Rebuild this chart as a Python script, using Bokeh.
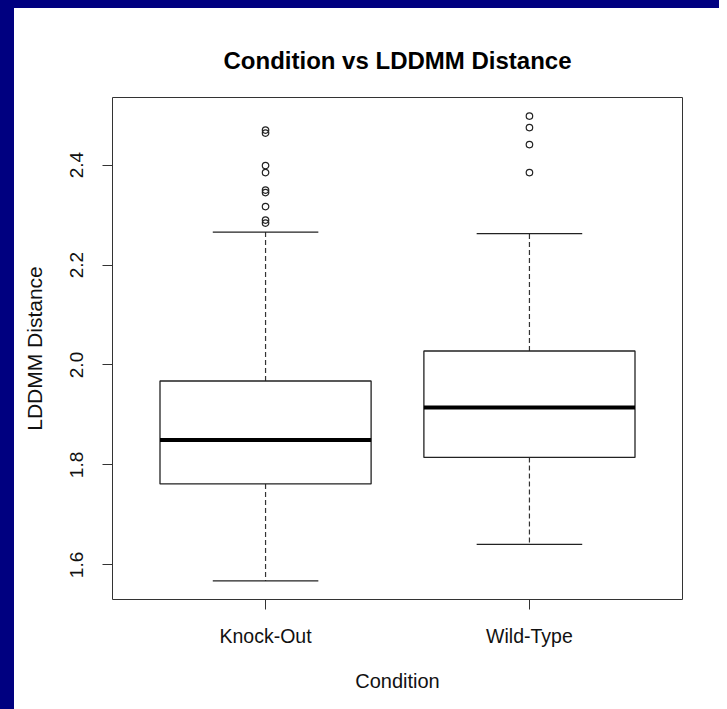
import math
from bokeh.plotting import figure
from bokeh.models import Range1d, FixedTicker, InlineStyleSheet
from bokeh.embed import file_html
from bokeh.resources import INLINE

# ---- data ----
categories = ["Knock-Out", "Wild-Type"]
positions = [1, 2]
lower_whisker = [1.568, 1.641]
q1 = [1.762, 1.815]
median = [1.850, 1.915]
q3 = [1.968, 2.028]
upper_whisker = [2.266, 2.263]
outliers_ko = [2.470, 2.464, 2.399, 2.385, 2.350, 2.345, 2.317, 2.290, 2.284]
outliers_wt = [2.498, 2.475, 2.441, 2.385]
y_ticks = [1.6, 1.8, 2.0, 2.2, 2.4]
y_tick_labels = ["1.6", "1.8", "2.0", "2.2", "2.4"]

FONT = "Liberation Sans"
BOX_HALF = 0.4
STAPLE_HALF = 0.2

p = figure(width=719, height=709, output_backend="svg", toolbar_location=None,
           x_range=Range1d(0.42, 2.58), y_range=Range1d(1.5308, 2.5352),
           min_border_left=112, min_border_right=37,
           min_border_top=97, min_border_bottom=110,
           title="Condition vs LDDMM Distance")
p.border_fill_color = None
p.background_fill_color = "white"
p.outline_line_color = "#333333"
p.outline_line_width = 1
p.grid.visible = False

p.title.align = "center"
p.title.text_font = FONT
p.title.text_font_size = "24px"
p.title.text_font_style = "bold"
p.title.text_color = "black"
p.title.standoff = 47

for ax in (p.xaxis[0], p.yaxis[0]):
    ax.axis_line_color = None
    ax.major_tick_line_color = "#333333"
    ax.major_tick_out = 10
    ax.major_tick_in = 0
    ax.minor_tick_line_color = None
    ax.major_label_text_font = FONT
    ax.major_label_text_color = "#111111"
    ax.axis_label_text_font = FONT
    ax.axis_label_text_font_style = "normal"
    ax.axis_label_text_color = "#111111"

p.xaxis.major_label_text_font_size = "19.5px"
p.xaxis.axis_label_text_font_size = "20px"
p.yaxis.major_label_text_font_size = "19px"
p.yaxis.axis_label_text_font_size = "21px"

p.xaxis.ticker = FixedTicker(ticks=positions)
p.xaxis.major_label_overrides = {pos: lab for pos, lab in zip(positions, categories)}
p.xaxis.axis_label = "Condition"
p.xaxis.major_label_standoff = 15
p.xaxis.axis_label_standoff = 20

p.yaxis.ticker = FixedTicker(ticks=y_ticks)
p.yaxis.major_label_overrides = {t: lab for t, lab in zip(y_ticks, y_tick_labels)}
p.yaxis.major_label_orientation = "parallel"
p.yaxis.axis_label = "LDDMM Distance"
p.yaxis.major_label_standoff = 19
p.yaxis.axis_label_standoff = 22

# whiskers (dashed)
p.segment(x0=positions, y0=q3, x1=positions, y1=upper_whisker,
          line_color="#333333", line_width=1.2, line_dash="5 3")
p.segment(x0=positions, y0=q1, x1=positions, y1=lower_whisker,
          line_color="#333333", line_width=1.2, line_dash="5 3")
# staples
p.segment(x0=[x - STAPLE_HALF for x in positions], y0=upper_whisker,
          x1=[x + STAPLE_HALF for x in positions], y1=upper_whisker,
          line_color="#222222", line_width=1.3)
p.segment(x0=[x - STAPLE_HALF for x in positions], y0=lower_whisker,
          x1=[x + STAPLE_HALF for x in positions], y1=lower_whisker,
          line_color="#222222", line_width=1.3)
# boxes
p.quad(left=[x - BOX_HALF for x in positions], right=[x + BOX_HALF for x in positions],
       bottom=q1, top=q3, fill_color="white", line_color="#222222", line_width=1.3)
# medians
p.segment(x0=[x - BOX_HALF for x in positions], y0=median,
          x1=[x + BOX_HALF for x in positions], y1=median,
          line_color="black", line_width=4, line_cap="butt")
# outliers
p.scatter(x=[positions[0]] * len(outliers_ko), y=outliers_ko, marker="circle",
          size=6.5, fill_color=None, line_color="#222222", line_width=1.2)
p.scatter(x=[positions[1]] * len(outliers_wt), y=outliers_wt, marker="circle",
          size=6.5, fill_color=None, line_color="#222222", line_width=1.2)

# navy slide frame on the left and top edges, white elsewhere
p.stylesheets = [
    InlineStyleSheet(css=(
        ":host{background:"
        "linear-gradient(#000080,#000080) left top/14px 100% no-repeat,"
        "linear-gradient(#000080,#000080) left top/100% 8px no-repeat,#ffffff;}"
    )),
]

open("out.html", "w").write(file_html(p, INLINE))
